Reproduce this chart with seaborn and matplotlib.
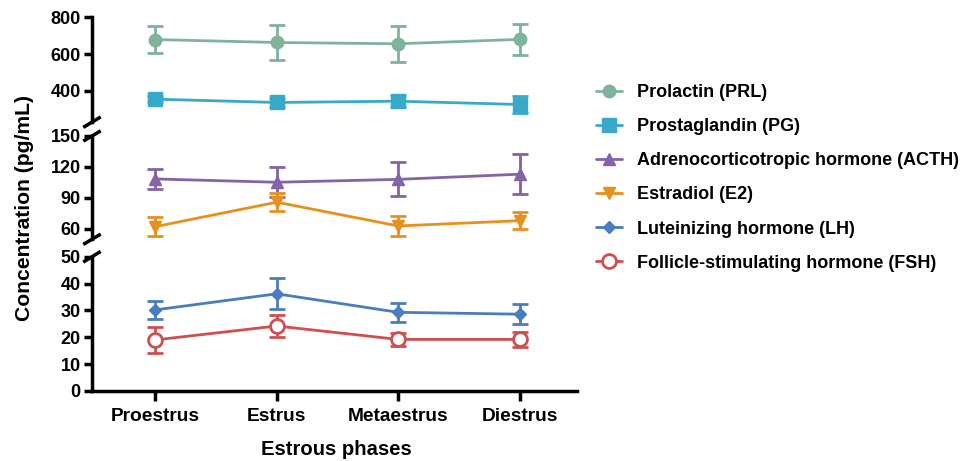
import numpy as np
import pandas as pd
import seaborn as sns
import matplotlib.pyplot as plt

phases = ['Proestrus', 'Estrus', 'Metaestrus', 'Diestrus']

prl_mean = [679, 663, 656, 680]
prl_err = [74, 96, 99, 84]
pg_mean = [355, 337, 344, 326]
pg_err = [15, 22, 33, 45]
acth_mean = [108.4, 105.2, 108.0, 113.0]
acth_err = [9.7, 14.7, 16.5, 19.4]
e2_mean = [62.2, 85.9, 62.9, 68.0]
e2_err = [9.4, 8.7, 10.0, 8.0]
lh_mean = [30.2, 36.2, 29.3, 28.6]
lh_err = [3.3, 5.8, 3.5, 3.8]
fsh_mean = [19.0, 24.2, 19.2, 19.2]
fsh_err = [4.9, 4.2, 2.5, 2.7]

series = [
    # name, mean, err, color, marker, markersize, filled, panel
    ('Prolactin (PRL)', prl_mean, prl_err, '#7fb39b', 'o', 9, True, 0),
    ('Prostaglandin (PG)', pg_mean, pg_err, '#38a9c9', 's', 10, True, 0),
    ('Adrenocorticotropic hormone (ACTH)', acth_mean, acth_err, '#8363a9', '^', 9, True, 1),
    ('Estradiol (E2)', e2_mean, e2_err, '#e8901e', 'v', 9, True, 1),
    ('Luteinizing hormone (LH)', lh_mean, lh_err, '#4a7dbd', 'D', 6, True, 2),
    ('Follicle-stimulating hormone (FSH)', fsh_mean, fsh_err, '#cf4f4f', 'o', 10, False, 2),
]

sns.set_style('ticks')
plt.rcParams['font.family'] = ['Liberation Sans', 'DejaVu Sans']
plt.rcParams['font.weight'] = 'bold'
plt.rcParams['text.color'] = 'black'
plt.rcParams['xtick.color'] = 'black'
plt.rcParams['ytick.color'] = 'black'
plt.rcParams['axes.edgecolor'] = 'black'

fig = plt.figure(figsize=(9.68, 4.61), dpi=100)
left, width = 0.095, 0.501
ax_top = fig.add_axes([left, 0.735, width, 0.9625 - 0.735])
ax_mid = fig.add_axes([left, 0.481, width, 0.705 - 0.481])
ax_bot = fig.add_axes([left, 0.152, width, 0.443 - 0.152])
axes = [ax_top, ax_mid, ax_bot]

x = np.arange(len(phases))
for name, mean, err, color, marker, ms, filled, panel in series:
    ax = axes[panel]
    df = pd.DataFrame({'x': x, 'y': mean})
    ax.errorbar(x, mean, yerr=err, fmt='none', ecolor=color, elinewidth=2,
                capsize=5.5, capthick=2, zorder=2)
    sns.lineplot(data=df, x='x', y='y', ax=ax, color=color, marker=marker,
                 markersize=ms, linewidth=2, label=name,
                 markerfacecolor=color if filled else 'white',
                 markeredgecolor=color, markeredgewidth=2 if not filled else 1,
                 zorder=3)

ax_top.set_ylim(230, 800)
ax_top.set_yticks([400, 600, 800])
ax_mid.set_ylim(50, 150)
ax_mid.set_yticks([60, 90, 120, 150])
ax_bot.set_ylim(0, 50)
ax_bot.set_yticks([0, 10, 20, 30, 40, 50])

handles, labels = [], []
for ax in axes:
    h, l = ax.get_legend_handles_labels()
    handles += h
    labels += l
    ax.get_legend().remove()
    ax.set_xlim(-0.52, 3.47)
    ax.set_xlabel('')
    ax.set_ylabel('')
    for s in ['top', 'right']:
        ax.spines[s].set_visible(False)
    ax.spines['left'].set_linewidth(2.5)
    ax.spines['bottom'].set_linewidth(2.5)
    ax.tick_params(axis='y', width=2.5, length=6, labelsize=13, pad=2)
    for t in ax.get_yticklabels():
        t.set_fontweight('bold')
    ax.patch.set_alpha(0)

for ax in [ax_top, ax_mid]:
    ax.spines['bottom'].set_visible(False)
    ax.set_xticks([])

ax_bot.set_xticks(x)
ax_bot.set_xticklabels(phases, fontsize=13.8, fontweight='bold')
ax_bot.tick_params(axis='x', width=2.5, length=7, pad=5)

# break marks on the left spine
def slash(ax, yfrac, dy):
    ax.plot([-0.018, 0.018], [yfrac - dy, yfrac + dy], transform=ax.transAxes,
            color='black', lw=2.5, clip_on=False, solid_capstyle='butt')

slash(ax_top, 0.0, 0.05)
slash(ax_mid, 1.0, 0.05)
slash(ax_mid, 0.0, 0.05)
slash(ax_bot, 1.0, 0.04)

fig.text(0.025, 0.549, 'Concentration (pg/mL)', rotation=90, ha='center',
         va='center', fontsize=15.2, fontweight='bold')
fig.text(0.347, 0.025, 'Estrous phases', ha='center', va='center',
         fontsize=14.6, fontweight='bold')

fig.legend(handles, labels, loc='upper left', bbox_to_anchor=(0.599, 0.853),
           frameon=False, handlelength=1.45, handletextpad=0.83,
           labelspacing=0.95, prop={'size': 13, 'weight': 'bold'})

plt.savefig('out.png', dpi=100)
